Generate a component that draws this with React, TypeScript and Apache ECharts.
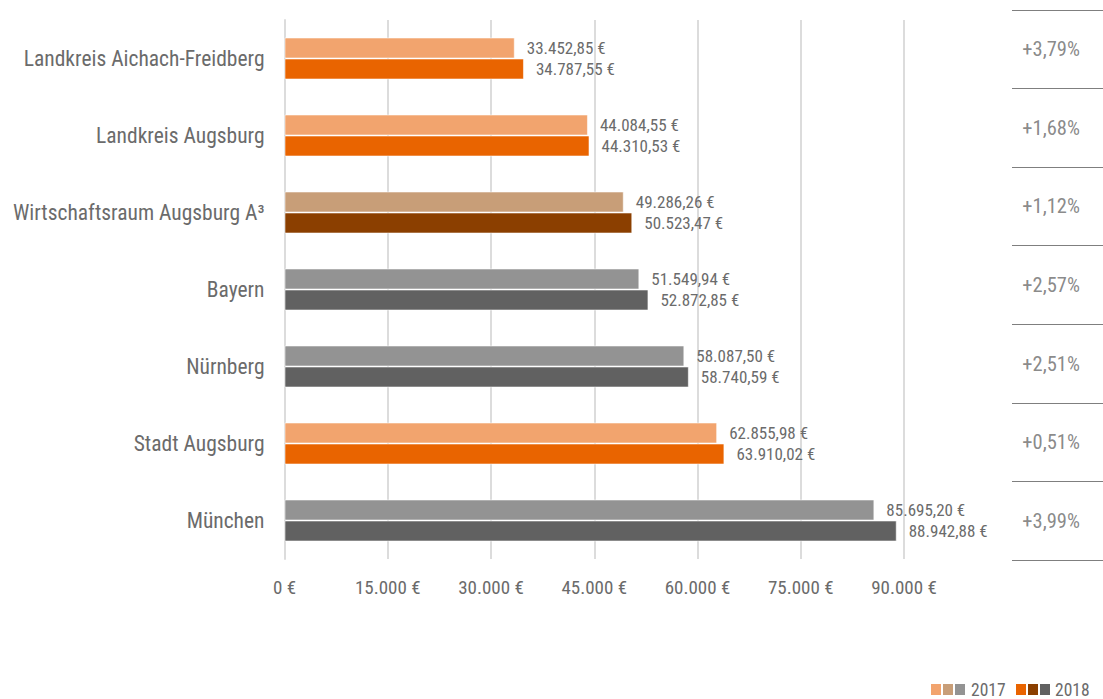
import React, { useEffect, useRef } from "react";
import * as echarts from "echarts";

const categories = [
  "Landkreis Aichach-Freidberg",
  "Landkreis Augsburg",
  "Wirtschaftsraum Augsburg A³",
  "Bayern",
  "Nürnberg",
  "Stadt Augsburg",
  "München",
];
const values2017 = [33452.85, 44084.55, 49286.26, 51549.94, 58087.5, 62855.98, 85695.2];
const values2018 = [34787.55, 44310.53, 50523.47, 52872.85, 58740.59, 63910.02, 88942.88];
const changes = ["+3,79%", "+1,68%", "+1,12%", "+2,57%", "+2,51%", "+0,51%", "+3,99%"];
const groups = ["orange", "orange", "brown", "gray", "gray", "orange", "gray"];
const seriesNames = ["2017", "2018"];

const palette: Record<string, [string, string]> = {
  orange: ["#F2A46E", "#E96400"],
  brown: ["#C89E78", "#8B3F00"],
  gray: ["#939393", "#616161"],
};

const FONT = "'Roboto Condensed', 'Liberation Sans Narrow', Roboto, sans-serif";
const TEXT = "#6b6b6b";

function fmtEuro(v: number): string {
  const fixed = v.toFixed(2);
  const [intPart, dec] = fixed.split(".");
  const withDots = intPart.replace(/\B(?=(\d{3})+(?!\d))/g, ".");
  return `${withDots},${dec} €`;
}
function fmtTick(v: number): string {
  const withDots = String(Math.round(v)).replace(/\B(?=(\d{3})+(?!\d))/g, ".");
  return `${withDots} €`;
}

export default function App() {
  const ref = useRef<HTMLDivElement>(null);

  useEffect(() => {
    document.body.style.margin = "0";
    const chart = echarts.init(ref.current!, undefined, { renderer: "svg" });

    const makeSeries = (vals: number[], idx: number) => ({
      name: seriesNames[idx],
      type: "bar",
      xAxisIndex: 0,
      yAxisIndex: 0,
      barWidth: 21,
      barGap: "0%",
      data: vals.map((v, i) => ({
        value: v,
        itemStyle: {
          color: palette[groups[i]][idx],
          borderColor: "rgba(255,255,255,0.55)",
          borderWidth: 1,
        },
      })),
      label: {
        show: true,
        position: "right",
        distance: 12,
        color: TEXT,
        fontFamily: FONT,
        fontSize: 17,
        formatter: (p: any) => fmtEuro(p.value),
      },
    });

    const legendSquares: any[] = [];
    const sqX = [931, 943, 955, 1016, 1028, 1040];
    const sqColors = [
      palette.orange[0], palette.brown[0], palette.gray[0],
      palette.orange[1], palette.brown[1], palette.gray[1],
    ];
    sqX.forEach((x, i) => {
      legendSquares.push({
        type: "rect",
        shape: { x, y: 684, width: 10, height: 11 },
        style: { fill: sqColors[i] },
      });
    });

    chart.setOption({
      animation: false,
      textStyle: { fontFamily: FONT },
      grid: [
        { left: 284.5, top: 20, width: 619.5, height: 539, containLabel: false },
        { left: 1012, top: 10, width: 91, height: 550, containLabel: false },
      ],
      xAxis: [
        {
          type: "value",
          gridIndex: 0,
          min: 0,
          max: 90000,
          interval: 15000,
          axisLine: { show: false },
          axisTick: { show: false },
          splitLine: { show: true, lineStyle: { color: "#dcdcdc", width: 2 } },
          axisLabel: {
            color: TEXT,
            fontFamily: FONT,
            fontSize: 19,
            margin: 19,
            formatter: (v: number) => fmtTick(v),
          },
        },
        {
          type: "value",
          gridIndex: 1,
          min: 0,
          max: 1,
          show: false,
        },
      ],
      yAxis: [
        {
          type: "category",
          gridIndex: 0,
          data: categories,
          inverse: true,
          axisLine: { show: true, lineStyle: { color: "#dcdcdc", width: 2 } },
          axisTick: { show: false },
          splitLine: { show: false },
          axisLabel: {
            color: TEXT,
            fontFamily: FONT,
            fontSize: 21.5,
            margin: 20,
          },
        },
        {
          type: "category",
          gridIndex: 1,
          data: categories,
          inverse: true,
          axisLine: { show: false },
          axisTick: { show: false, interval: 0 },
          axisLabel: { show: false },
          splitLine: { show: true, interval: 0, lineStyle: { color: "#7f7f7f", width: 1 } },
        },
      ],
      series: [
        makeSeries(values2017, 0),
        makeSeries(values2018, 1),
        {
          name: "change",
          type: "scatter",
          xAxisIndex: 1,
          yAxisIndex: 1,
          symbolSize: 0,
          data: changes.map((c, i) => ({ value: [0.43, categories[i]], change: c })),
          label: {
            show: true,
            position: "inside",
            color: TEXT,
            fontFamily: FONT,
            fontSize: 20.5,
            formatter: (p: any) => p.data.change,
          },
        },
      ],
      graphic: [
        ...legendSquares,
        {
          type: "text",
          x: 971,
          y: 689.5,
          style: {
            text: seriesNames[0],
            fill: TEXT,
            font: `17.5px ${FONT}`,
            verticalAlign: "middle",
          },
        },
        {
          type: "text",
          x: 1055,
          y: 689.5,
          style: {
            text: seriesNames[1],
            fill: TEXT,
            font: `17.5px ${FONT}`,
            verticalAlign: "middle",
          },
        },
      ],
    });

    return () => chart.dispose();
  }, []);

  return <div ref={ref} style={{ width: 1103, height: 699 }} />;
}
